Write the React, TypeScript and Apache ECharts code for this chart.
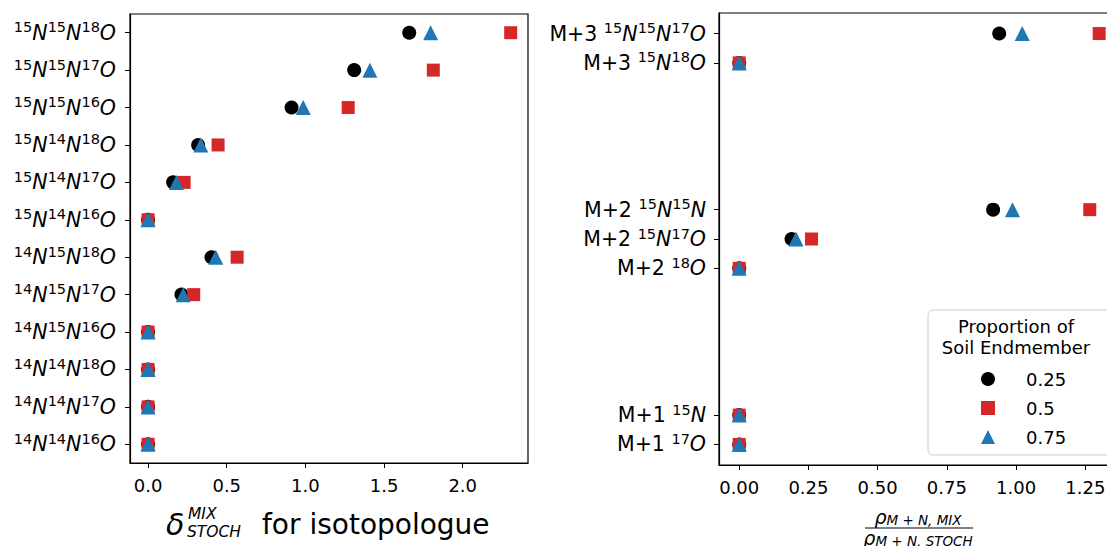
import React, { useEffect, useRef } from "react";
import * as echarts from "echarts";

const FONT = "DejaVu Sans";

// Left panel: isotopologues, top to bottom
const leftLabels = [
  "15N15N18O", "15N15N17O", "15N15N16O", "15N14N18O", "15N14N17O", "15N14N16O",
  "14N15N18O", "14N15N17O", "14N15N16O", "14N14N18O", "14N14N17O", "14N14N16O",
];
const left025 = [1.66, 1.31, 0.912, 0.318, 0.159, 0, 0.403, 0.212, 0, 0, 0, 0];
const left05 = [2.305, 1.813, 1.272, 0.445, 0.229, 0, 0.566, 0.29, 0, 0, 0, 0];
const left075 = [1.796, 1.41, 0.986, 0.335, 0.18, 0, 0.43, 0.223, 0, 0, 0, 0];
const leftXTicks = [0, 0.5, 1.0, 1.5, 2.0];

// Right panel: mass groups
const rightLabels = ["M+3 15N15N17O", "M+3 15N18O", "M+2 15N15N", "M+2 15N17O", "M+2 18O", "M+1 15N", "M+1 17O"];
const rightPos = [14, 13, 8, 7, 6, 1, 0];
const right025 = [0.939, 0, 0.917, 0.189, 0, 0, 0];
const right05 = [1.30, 0, 1.266, 0.261, 0, 0, 0];
const right075 = [1.022, 0, 0.987, 0.205, 0, 0, 0];
const rightXTicks = [0, 0.25, 0.5, 0.75, 1.0, 1.25];

const seriesNames = ["0.25", "0.5", "0.75"];
const colors = ["#000000", "#d62728", "#1f77b4"];
const symbols = ["circle", "rect", "triangle"];
const sizes = [14, 13, 15];

function richLabel(s: string): string {
  let out = "";
  const m = s.match(/^(M\+\d )?(.*)$/);
  if (m && m[1]) out += `{t|${m[1]}}`;
  const rest = m ? m[2] : s;
  rest.replace(/(\d+)([A-Z])/g, (_a: string, d: string, l: string) => {
    out += `{s|${d}}{n|${l}}`;
    return "";
  });
  return out;
}

const labelRich = {
  t: { fontSize: 20.5, lineHeight: 26, color: "#000", fontFamily: FONT },
  n: { fontSize: 20.5, lineHeight: 26, color: "#000", fontStyle: "italic", fontFamily: FONT },
  s: { fontSize: 14.5, lineHeight: 15, color: "#000", verticalAlign: "top", fontFamily: FONT },
};

export default function App() {
  const ref = useRef<HTMLDivElement>(null);
  useEffect(() => {
    if (!ref.current) return;
    const chart = echarts.init(ref.current, null, { renderer: "svg" });
    const leftData = [left025, left05, left075];
    const rightData = [right025, right05, right075];
    const series: any[] = [];
    for (let k = 0; k < 3; k++) {
      series.push({
        type: "scatter",
        name: seriesNames[k],
        xAxisIndex: 0,
        yAxisIndex: 0,
        symbol: symbols[k],
        symbolSize: sizes[k],
        itemStyle: { color: colors[k], opacity: 1 },
        data: leftLabels.map((_, i) => [leftData[k][i], i]),
        z: 2 + k,
      });
    }
    for (let k = 0; k < 3; k++) {
      series.push({
        type: "scatter",
        name: seriesNames[k],
        xAxisIndex: 1,
        yAxisIndex: 1,
        symbol: symbols[k],
        symbolSize: sizes[k],
        itemStyle: { color: colors[k], opacity: 1 },
        data: rightLabels.map((_, i) => [rightData[k][i], rightPos[i]]),
        z: 2 + k,
      });
    }
    const axisLine = { show: true, onZero: false, lineStyle: { color: "#000", width: 1.2 } };
    const option: any = {
      animation: false,
      textStyle: { fontFamily: FONT },
      grid: [
        { left: 130, top: 14, width: 398, height: 449, show: true, borderColor: "#000", borderWidth: 1.2, backgroundColor: "transparent" },
        { left: 719, top: 13, width: 430, height: 452, show: true, borderColor: "#000", borderWidth: 1.2, backgroundColor: "transparent" },
      ],
      xAxis: [
        {
          type: "value", gridIndex: 0, min: -0.115, max: 2.415,
          splitLine: { show: false }, axisLine,
          axisTick: { show: true, length: 5, customValues: leftXTicks, lineStyle: { color: "#000", width: 1 } },
          axisLabel: { customValues: leftXTicks, formatter: (v: number) => v.toFixed(1), fontSize: 18, color: "#000", margin: 13, fontFamily: FONT },
        },
        {
          type: "value", gridIndex: 1, min: -0.073, max: 1.48,
          splitLine: { show: false }, axisLine,
          axisTick: { show: true, length: 5, customValues: rightXTicks, lineStyle: { color: "#000", width: 1 } },
          axisLabel: { customValues: rightXTicks, formatter: (v: number) => v.toFixed(2), fontSize: 18, color: "#000", margin: 13, fontFamily: FONT },
        },
      ],
      yAxis: [
        {
          type: "value", gridIndex: 0, min: -0.5, max: 11.5, inverse: true,
          splitLine: { show: false }, axisLine,
          axisTick: { show: true, length: 5, customValues: leftLabels.map((_, i) => i), lineStyle: { color: "#000", width: 1 } },
          axisLabel: {
            customValues: leftLabels.map((_, i) => i),
            formatter: (v: number) => richLabel(leftLabels[Math.round(v)] || ""),
            rich: labelRich, margin: 14,
          },
        },
        {
          type: "value", gridIndex: 1, min: -0.7, max: 14.7,
          splitLine: { show: false }, axisLine,
          axisTick: { show: true, length: 5, customValues: rightPos, lineStyle: { color: "#000", width: 1 } },
          axisLabel: {
            customValues: rightPos,
            formatter: (v: number) => {
              const i = rightPos.indexOf(Math.round(v));
              return i >= 0 ? richLabel(rightLabels[i]) : "";
            },
            rich: labelRich, margin: 13,
          },
        },
      ],
      legend: {
        data: seriesNames,
        orient: "vertical",
        left: 976,
        top: 364,
        itemWidth: 14,
        itemHeight: 14,
        itemGap: 9,
        z: 10,
        textStyle: { fontSize: 18, color: "#000", fontFamily: FONT, lineHeight: 20, padding: [0, 0, 0, 26] },
      },
      graphic: [
        {
          type: "rect", z: 8,
          shape: { x: 928, y: 310, width: 200, height: 145, r: 5 },
          style: { fill: "rgba(255,255,255,0.85)", stroke: "#cccccc", lineWidth: 1 },
        },
        {
          type: "text", z: 9, x: 1016, y: 316,
          style: { text: "Proportion of\nSoil Endmember", fontSize: 18, lineHeight: 21, fill: "#000", align: "center", verticalAlign: "top", fontFamily: FONT },
        },
        {
          type: "text", x: 166, y: 524,
          style: { text: "δ", fontSize: 30, fontStyle: "italic", fill: "#000", verticalAlign: "middle", fontFamily: FONT },
        },
        {
          type: "text", x: 188, y: 514,
          style: { text: "MIX", fontSize: 15.5, fontStyle: "italic", fill: "#000", verticalAlign: "middle", fontFamily: FONT },
        },
        {
          type: "text", x: 187, y: 532,
          style: { text: "STOCH", fontSize: 15.5, fontStyle: "italic", fill: "#000", verticalAlign: "middle", fontFamily: FONT },
        },
        {
          type: "text", x: 262, y: 524,
          style: { text: "for isotopologue", fontSize: 28, fill: "#000", verticalAlign: "middle", fontFamily: FONT },
        },
        {
          type: "text", x: 918, y: 517,
          style: {
            text: "{r|ρ}{b|M + N, MIX}", align: "center", verticalAlign: "middle",
            rich: {
              r: { fontSize: 19, fontStyle: "italic", fill: "#000", fontFamily: FONT, lineHeight: 20 },
              b: { fontSize: 13.5, fontStyle: "italic", fill: "#000", fontFamily: FONT, lineHeight: 15, verticalAlign: "bottom" },
            },
          },
        },
        {
          type: "line",
          shape: { x1: 865, y1: 528, x2: 973, y2: 528 },
          style: { stroke: "#000", lineWidth: 1 },
        },
        {
          type: "text", x: 918, y: 538,
          style: {
            text: "{r|ρ}{b|M + N, STOCH}", align: "center", verticalAlign: "middle",
            rich: {
              r: { fontSize: 19, fontStyle: "italic", fill: "#000", fontFamily: FONT, lineHeight: 20 },
              b: { fontSize: 13.5, fontStyle: "italic", fill: "#000", fontFamily: FONT, lineHeight: 15, verticalAlign: "bottom" },
            },
          },
        },
      ],
      series,
    };
    chart.setOption(option);
    return () => chart.dispose();
  }, []);
  return (
    <div style={{ position: "fixed", left: 0, top: 0, width: 1107, height: 546, overflow: "hidden", background: "#fff" }}>
      <div ref={ref} style={{ width: 1200, height: 546 }} />
    </div>
  );
}
